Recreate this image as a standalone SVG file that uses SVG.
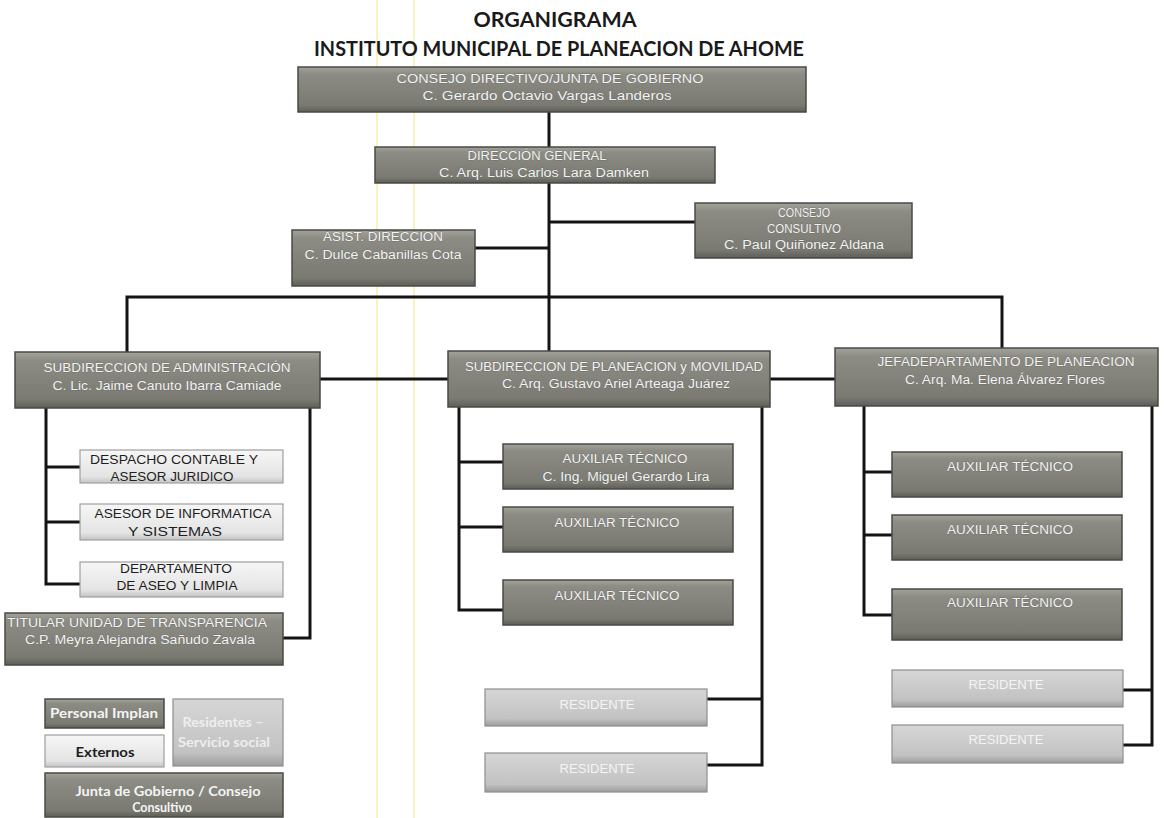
<svg xmlns="http://www.w3.org/2000/svg" width="1164" height="818" viewBox="0 0 1164 818">
<defs>
<linearGradient id="gDark" x1="0" y1="0" x2="0" y2="1">
<stop offset="0" stop-color="#a3a39c"/><stop offset="0.15" stop-color="#8c8c85"/><stop offset="0.85" stop-color="#7a7a73"/><stop offset="1" stop-color="#5e5e58"/>
</linearGradient>
<linearGradient id="gLight" x1="0" y1="0" x2="0" y2="1">
<stop offset="0" stop-color="#f6f6f6"/><stop offset="0.8" stop-color="#e4e4e4"/><stop offset="1" stop-color="#c4c4c4"/>
</linearGradient>
<linearGradient id="gRes" x1="0" y1="0" x2="0" y2="1">
<stop offset="0" stop-color="#d6d6d6"/><stop offset="0.8" stop-color="#c2c2c2"/><stop offset="1" stop-color="#9c9c9c"/>
</linearGradient>
<style>
.dk{fill:url(#gDark);stroke:#4a4a45;stroke-width:1.5}
.lt{fill:url(#gLight);stroke:#9e9e9e;stroke-width:1.2}
.rs{fill:url(#gRes);stroke:#8e8e8e;stroke-width:1.2}
.t{font-family:"Liberation Sans",Arial,sans-serif;font-size:12px;fill:#f3f3f3;text-anchor:middle;stroke:#555550;stroke-width:0.35;paint-order:stroke}
.tl{font-family:"Liberation Sans",Arial,sans-serif;font-size:12.5px;fill:#1e1e1e;text-anchor:middle}
.tr{font-family:"Liberation Sans",Arial,sans-serif;font-size:12px;fill:#f4f4f4;text-anchor:middle}
.lg{font-family:Lato,"Liberation Sans",sans-serif;font-weight:bold;font-size:12.5px;text-anchor:middle}
.ttl{font-family:Lato,"Liberation Sans",sans-serif;font-weight:bold;font-size:20px;fill:#1a1a1a;text-anchor:middle}
.ln{stroke:#141414;stroke-width:3;fill:none}
.scan{stroke:#f3ee96;stroke-width:1.5;opacity:0.8}
</style>
</defs>
<rect width="1164" height="818" fill="#ffffff"/>
<line class="scan" x1="377" y1="0" x2="377" y2="818"/>
<line class="scan" x1="414" y1="0" x2="414" y2="818"/>

<g id="title">
<text class="ttl" x="555" y="27" textLength="163" lengthAdjust="spacingAndGlyphs">ORGANIGRAMA</text>
<text class="ttl" x="559" y="56" textLength="490" lengthAdjust="spacingAndGlyphs">INSTITUTO MUNICIPAL DE PLANEACION DE AHOME</text>
</g>

<g id="connectors">
<path class="ln" d="M549,112 V351"/>
<path class="ln" d="M475,248 H549"/>
<path class="ln" d="M549,222 H695"/>
<path class="ln" d="M127,352 V297 H1002 V348"/>
<path class="ln" d="M320,379 H448"/>
<path class="ln" d="M770,379 H835"/>
<path class="ln" d="M46,408 V584 H80 M46,467 H80 M46,522 H80"/>
<path class="ln" d="M310,408 V638 H283"/>
<path class="ln" d="M459,407 V610 H503 M459,462 H503 M459,527 H503"/>
<path class="ln" d="M762,407 V765 H707 M707,699 H762"/>
<path class="ln" d="M864,406 V615 H892 M864,472 H892 M864,535 H892"/>
<path class="ln" d="M1152,406 V745 H1123 M1123,690 H1152"/>
</g>

<g id="n-consejo">
<rect class="dk" x="298" y="67" width="508" height="45"/>
<text class="t" x="550" y="83" textLength="307" lengthAdjust="spacingAndGlyphs">CONSEJO DIRECTIVO/JUNTA  DE GOBIERNO</text>
<text class="t" x="547" y="100" textLength="249" lengthAdjust="spacingAndGlyphs">C. Gerardo Octavio Vargas Landeros</text>
</g>
<g id="n-direccion">
<rect class="dk" x="375" y="147" width="340" height="36"/>
<text class="t" x="537" y="160" textLength="139" lengthAdjust="spacingAndGlyphs">DIRECCIÓN  GENERAL</text>
<text class="t" x="544" y="177" textLength="210" lengthAdjust="spacingAndGlyphs">C. Arq. Luis Carlos Lara Damken</text>
</g>
<g id="n-asist">
<rect class="dk" x="292" y="230" width="183" height="56"/>
<text class="t" x="383" y="241" textLength="120" lengthAdjust="spacingAndGlyphs">ASIST.  DIRECCION</text>
<text class="t" x="383" y="259" textLength="157" lengthAdjust="spacingAndGlyphs">C. Dulce Cabanillas Cota</text>
</g>
<g id="n-consultivo">
<rect class="dk" x="695" y="203" width="217" height="55"/>
<text class="t" x="804" y="217" textLength="52" lengthAdjust="spacingAndGlyphs">CONSEJO</text>
<text class="t" x="804" y="233" textLength="74" lengthAdjust="spacingAndGlyphs">CONSULTIVO</text>
<text class="t" x="804" y="249" textLength="160" lengthAdjust="spacingAndGlyphs">C. Paul Quiñonez Aldana</text>
</g>
<g id="n-subadmin">
<rect class="dk" x="15" y="352" width="305" height="56"/>
<text class="t" x="167" y="372" textLength="247" lengthAdjust="spacingAndGlyphs">SUBDIRECCION  DE ADMINISTRACIÓN</text>
<text class="t" x="167" y="390" textLength="229" lengthAdjust="spacingAndGlyphs">C. Lic. Jaime Canuto Ibarra Camiade</text>
</g>
<g id="n-subplan">
<rect class="dk" x="448" y="351" width="322" height="56"/>
<text class="t" x="614" y="371" textLength="298" lengthAdjust="spacingAndGlyphs">SUBDIRECCION  DE PLANEACION y MOVILIDAD</text>
<text class="t" x="616" y="388" textLength="228" lengthAdjust="spacingAndGlyphs">C. Arq. Gustavo Ariel Arteaga Juárez</text>
</g>
<g id="n-jefa">
<rect class="dk" x="835" y="348" width="323" height="58"/>
<text class="t" x="1006" y="366" textLength="257" lengthAdjust="spacingAndGlyphs">JEFADEPARTAMENTO DE PLANEACION</text>
<text class="t" x="1005" y="384" textLength="200" lengthAdjust="spacingAndGlyphs">C. Arq. Ma. Elena Álvarez Flores</text>
</g>

<g id="n-despacho">
<rect class="lt" x="80" y="450" width="203" height="33"/>
<text class="tl" x="174" y="464" textLength="168" lengthAdjust="spacingAndGlyphs">DESPACHO CONTABLE  Y</text>
<text class="tl" x="172" y="481" textLength="123" lengthAdjust="spacingAndGlyphs">ASESOR JURIDICO</text>
</g>
<g id="n-informatica">
<rect class="lt" x="80" y="504" width="203" height="36"/>
<text class="tl" x="183" y="518" textLength="177" lengthAdjust="spacingAndGlyphs">ASESOR DE INFORMATICA</text>
<text class="tl" x="175" y="536" textLength="94" lengthAdjust="spacingAndGlyphs">Y SISTEMAS</text>
</g>
<g id="n-aseo">
<rect class="lt" x="80" y="562" width="203" height="35"/>
<text class="tl" x="176" y="573" textLength="112" lengthAdjust="spacingAndGlyphs">DEPARTAMENTO</text>
<text class="tl" x="177" y="590" textLength="121" lengthAdjust="spacingAndGlyphs">DE ASEO Y LIMPIA</text>
</g>
<g id="n-titular">
<rect class="dk" x="5" y="613" width="278" height="52"/>
<text class="t" x="137" y="627" textLength="260" lengthAdjust="spacingAndGlyphs">TITULAR UNIDAD  DE  TRANSPARENCIA</text>
<text class="t" x="140" y="644" textLength="230" lengthAdjust="spacingAndGlyphs">C.P.  Meyra Alejandra Sañudo Zavala</text>
</g>

<g id="n-aux1">
<rect class="dk" x="503" y="444" width="230" height="45"/>
<text class="t" x="625" y="463" textLength="125" lengthAdjust="spacingAndGlyphs">AUXILIAR  TÉCNICO</text>
<text class="t" x="626" y="481" textLength="167" lengthAdjust="spacingAndGlyphs">C. Ing. Miguel Gerardo Lira</text>
</g>
<g id="n-aux2">
<rect class="dk" x="503" y="507" width="230" height="45"/>
<text class="t" x="617" y="527" textLength="125" lengthAdjust="spacingAndGlyphs">AUXILIAR  TÉCNICO</text>
</g>
<g id="n-aux3">
<rect class="dk" x="503" y="580" width="230" height="45"/>
<text class="t" x="617" y="600" textLength="125" lengthAdjust="spacingAndGlyphs">AUXILIAR  TÉCNICO</text>
</g>
<g id="n-res1">
<rect class="rs" x="485" y="689" width="222" height="37"/>
<text class="tr" x="597" y="709" textLength="75" lengthAdjust="spacingAndGlyphs">RESIDENTE</text>
</g>
<g id="n-res2">
<rect class="rs" x="485" y="753" width="222" height="39"/>
<text class="tr" x="597" y="773" textLength="75" lengthAdjust="spacingAndGlyphs">RESIDENTE</text>
</g>

<g id="n-auxr1">
<rect class="dk" x="892" y="452" width="230" height="45"/>
<text class="t" x="1010" y="471" textLength="126" lengthAdjust="spacingAndGlyphs">AUXILIAR  TÉCNICO</text>
</g>
<g id="n-auxr2">
<rect class="dk" x="892" y="515" width="230" height="45"/>
<text class="t" x="1010" y="534" textLength="126" lengthAdjust="spacingAndGlyphs">AUXILIAR  TÉCNICO</text>
</g>
<g id="n-auxr3">
<rect class="dk" x="892" y="589" width="230" height="51"/>
<text class="t" x="1010" y="607" textLength="126" lengthAdjust="spacingAndGlyphs">AUXILIAR  TÉCNICO</text>
</g>
<g id="n-resr1">
<rect class="rs" x="892" y="670" width="231" height="37"/>
<text class="tr" x="1006" y="689" textLength="75" lengthAdjust="spacingAndGlyphs">RESIDENTE</text>
</g>
<g id="n-resr2">
<rect class="rs" x="892" y="725" width="231" height="38"/>
<text class="tr" x="1006" y="744" textLength="75" lengthAdjust="spacingAndGlyphs">RESIDENTE</text>
</g>

<g id="legend">
<g id="lg-personal">
<rect class="dk" x="45" y="699" width="119" height="29"/>
<text class="lg" x="104" y="718" fill="#f4f4f4" textLength="108" lengthAdjust="spacingAndGlyphs">Personal Implan</text>
</g>
<g id="lg-externos">
<rect class="lt" x="45" y="735" width="119" height="32"/>
<text class="lg" x="105" y="757" fill="#1e1e1e" textLength="59" lengthAdjust="spacingAndGlyphs">Externos</text>
</g>
<g id="lg-residentes">
<rect class="rs" x="173" y="699" width="110" height="67"/>
<text class="lg" x="223" y="727" fill="#eeeeee" textLength="81" lengthAdjust="spacingAndGlyphs">Residentes –</text>
<text class="lg" x="224" y="747" fill="#eeeeee" textLength="92" lengthAdjust="spacingAndGlyphs">Servicio social</text>
</g>
<g id="lg-junta">
<rect class="dk" x="45" y="773" width="238" height="44"/>
<text class="lg" x="168" y="796" fill="#f4f4f4" textLength="185" lengthAdjust="spacingAndGlyphs">Junta de Gobierno / Consejo</text>
<text class="lg" x="162" y="812" fill="#f4f4f4">Consultivo</text>
</g>
</g>
</svg>
